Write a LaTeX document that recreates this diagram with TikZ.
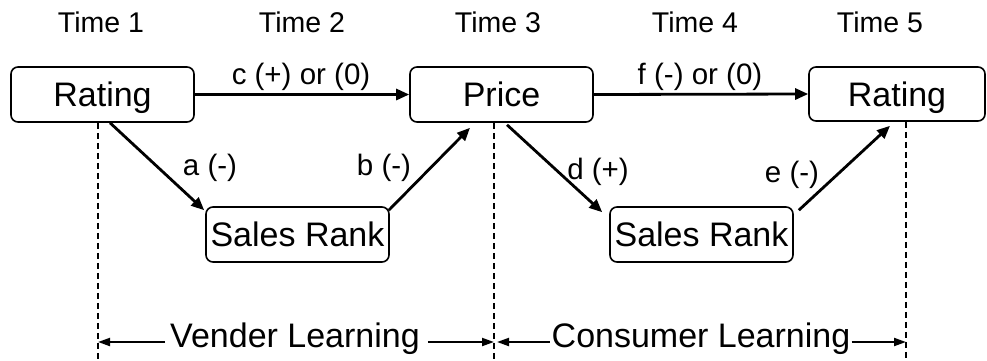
\documentclass[tikz,border=0pt]{standalone}
\usepackage{fontspec}
\setmainfont{Liberation Sans}
\usetikzlibrary{arrows.meta,calc}
\begin{document}
\begin{tikzpicture}[x=1pt,y=-1pt,
  box/.style={draw, line width=1.6pt, rounded corners=7pt, inner sep=0pt,
    text height=24.3pt, text depth=0pt, font=\fontsize{34}{40}\selectfont},
  arr/.style={line width=2.8pt, -{Triangle[length=13pt,width=11pt]}},
  lab/.style={anchor=base, inner sep=0pt, font=\fontsize{29.5}{34}\selectfont},
  tlab/.style={anchor=base, inner sep=0pt, font=\fontsize{28.5}{33}\selectfont},
  blab/.style={anchor=base, inner sep=0pt, font=\fontsize{34}{40}\selectfont},
  dline/.style={line width=1.4pt, dash pattern=on 6pt off 4pt},
  barr/.style={line width=2pt, -{Triangle[length=12pt,width=8pt]}}
]
\useasboundingbox (0,0) rectangle (987,360);

% time labels
\node[tlab] (tm1) at (101,32) {Time 1};
\node[tlab] (tm2) at (302,32) {Time 2};
\node[tlab] (tm3) at (498,32) {Time 3};
\node[tlab] (tm4) at (695,32) {Time 4};
\node[tlab] (tm5) at (880,32) {Time 5};

% boxes
\node[box, minimum width=183pt, minimum height=55pt] (r1) at (102.5,94.5) {Rating};
\node[box, minimum width=183pt, minimum height=55pt] (p) at (501.5,94.5) {Price};
\node[box, minimum width=176pt, minimum height=54pt] (r2) at (897,94) {Rating};
\node[box, minimum width=183pt, minimum height=55pt] (s1) at (297.5,234.5) {Sales Rank};
\node[box, minimum width=183pt, minimum height=55pt] (s2) at (701.5,234.5) {Sales Rank};

% dashed separators
\coordinate (dx1) at (98,360);
\coordinate (dx2) at (494,360);
\coordinate (dx3) at (906,360);
\draw[dline] (dx1 |- r1.south) -- (dx1);
\draw[dline] (dx2 |- p.south) -- (dx2);
\draw[dline] (dx3 |- r2.south) -- (dx3);

% edges
\draw[arr] (r1.east) -- (p.west);
\draw[arr] (p.east) -- (r2.west);
\draw[arr] ($(r1.south)+(7.5,0)$) -- ($(s1.north west)+(-1,4)$);
\draw[arr] ($(s1.north east)+(-1,4)$) -- ($(p.south)+(-31.5,5)$);
\draw[arr] ($(p.south)+(5.5,2)$) -- ($(s2.north west)+(-7,6)$);
\draw[arr] ($(s2.north east)+(5,4)$) -- ($(r2.south)+(-7,4)$);

% edge labels
\node[lab] (lc) at (301,84) {c (+) or (0)};
\node[lab] (lf) at (700,84) {f (-) or (0)};
\node[lab] (la) at (210,175) {a (-)};
\node[lab] (lb) at (384,175) {b (-)};
\node[lab] (ld) at (598,179) {d (+)};
\node[lab] (le) at (792,182) {e (-)};

% bottom labels
\coordinate (ya) at (0,342);
\node[blab] (vl) at (295,347) {Vender Learning};
\node[blab] (cl) at (701,347) {Consumer Learning};
\draw[barr] ($(vl.west |- ya)+(-5,0)$) -- (dx1 |- ya);
\draw[barr] ($(vl.east |- ya)+(8,0)$) -- (dx2 |- ya);
\draw[barr] ($(cl.west |- ya)+(-2,0)$) -- ($(dx2 |- ya)+(3,0)$);
\draw[barr] ($(cl.east |- ya)+(1,0)$) -- (dx3 |- ya);
\end{tikzpicture}
\end{document}
